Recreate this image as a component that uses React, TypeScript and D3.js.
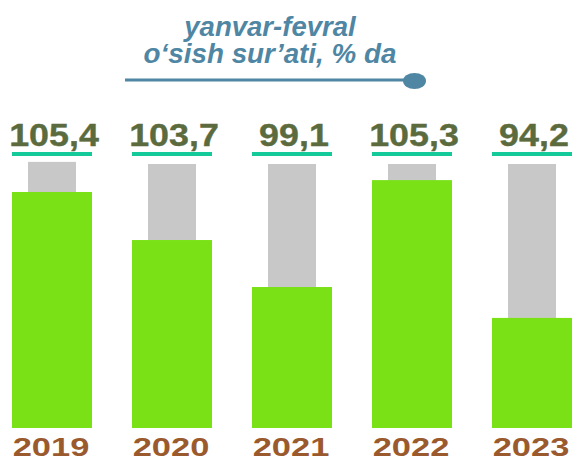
import React from "react";
import * as d3 from "d3";

const years = ["2019", "2020", "2021", "2022", "2023"];
const growthLabels = ["105,4", "103,7", "99,1", "105,3", "94,2"];
const greenValues = [89.4, 71.2, 53.4, 93.9, 41.7];
const grayValues = [100.8, 100, 100, 100, 100];
const titleLines = ["yanvar-fevral", "o‘sish sur’ati, % da"];

const W = 574;
const H = 460;

export default function App() {
  const x = d3
    .scaleBand<string>()
    .domain(years)
    .range([12, 572])
    .paddingInner(1 / 3)
    .paddingOuter(0);
  const y = d3.scaleLinear().domain([0, 100]).range([428, 164]);
  const bw = x.bandwidth();
  const grayW = 48;
  const font = "Arial, 'Liberation Sans', sans-serif";

  return (
    <svg
      width={W}
      height={H}
      style={{ position: "absolute", left: 0, top: 0, background: "#fff" }}
      fontFamily={font}
    >
      {/* title */}
      <g fill="#4f86a3" fontWeight="bold" fontStyle="italic" fontSize={27} textAnchor="middle">
        <text transform="translate(270,36) scale(1.02,1)">{titleLines[0]}</text>
        <text transform="translate(270,63) scale(1.03,1)">{titleLines[1]}</text>
      </g>
      <line x1={125} x2={410} y1={80} y2={80} stroke="#4f86a3" strokeWidth={3} />
      <ellipse cx={414.5} cy={81} rx={11.5} ry={8} fill="#4f86a3" />

      {years.map((yr, i) => {
        const x0 = x(yr)!;
        const cx = x0 + bw / 2;
        return (
          <g key={yr}>
            <rect
              x={cx - grayW / 2}
              y={y(grayValues[i])}
              width={grayW}
              height={y(0) - y(grayValues[i])}
              fill="#c8c8c8"
            />
            <rect
              x={x0}
              y={y(greenValues[i])}
              width={bw}
              height={y(0) - y(greenValues[i])}
              fill="#7ae116"
            />
            <rect x={x0} y={152} width={bw} height={4} fill="#14c99a" />
            <text
              transform={`translate(${cx + 2},146) scale(1.12,1)`}
              textAnchor="middle"
              fontWeight="bold"
              fontSize={32}
              fill="#5b6b3e"
              stroke="#5b6b3e"
              strokeWidth={0.4}
            >
              {growthLabels[i]}
            </text>
            <text
              transform={`translate(${cx - 1},456) scale(1.3,1)`}
              textAnchor="middle"
              fontWeight="bold"
              fontSize={26.5}
              fill="#9a5a2e"
            >
              {yr}
            </text>
          </g>
        );
      })}
    </svg>
  );
}
